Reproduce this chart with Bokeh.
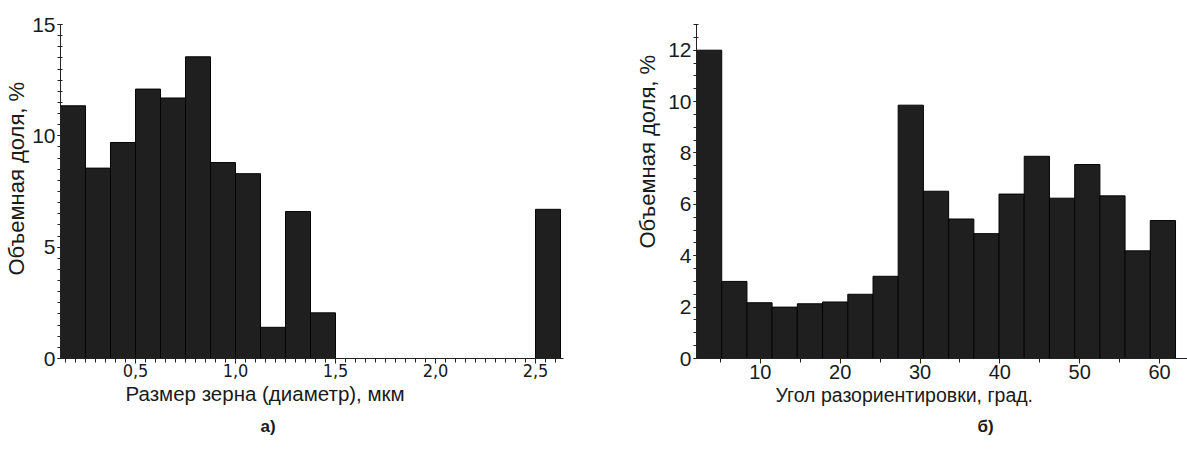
import numpy as np
from bokeh.plotting import figure
from bokeh.layouts import row
from bokeh.models import Range1d, FixedTicker, CustomJSTickFormatter, Title
from bokeh.embed import file_html
from bokeh.resources import INLINE

# ---- data: (a) grain size distribution ----
size_edges = [0.125, 0.25, 0.375, 0.5, 0.625, 0.75, 0.875, 1.0, 1.125, 1.25, 1.375,
              1.5, 1.625, 1.75, 1.875, 2.0, 2.125, 2.25, 2.375, 2.5, 2.625]
size_share = [11.35, 8.55, 9.7, 12.1, 11.7, 13.55, 8.8, 8.3, 1.4, 6.6, 2.05,
              0, 0, 0, 0, 0, 0, 0, 0, 6.7]
size_ticks = [0.5, 1.0, 1.5, 2.0, 2.5]
size_yticks = [0, 5, 10, 15]

# ---- data: (b) misorientation angle distribution ----
angle_edges = [2.0, 5.16, 8.32, 11.47, 14.63, 17.79, 20.95, 24.11, 27.26, 30.42, 33.58,
               36.74, 39.89, 43.05, 46.21, 49.37, 52.53, 55.68, 58.84, 62.0]
angle_share = [12.0, 3.0, 2.17, 2.0, 2.13, 2.2, 2.5, 3.2, 9.86, 6.51, 5.43, 4.86,
               6.4, 7.87, 6.24, 7.55, 6.33, 4.19, 5.37]
angle_ticks = [10, 20, 30, 40, 50, 60]
angle_yticks = [0, 2, 4, 6, 8, 10, 12]

FONT = "Liberation Sans"
NARROW = "DejaVu Sans Condensed"
TXT = "#1a1a1a"
BAR = "#1f1f1f"


def style(p):
    p.outline_line_color = None
    p.xgrid.visible = False
    p.ygrid.visible = False
    p.background_fill_color = "white"
    p.border_fill_color = "white"
    for ax in (p.xaxis[0], p.yaxis[0]):
        ax.axis_line_color = "#222222"
        ax.major_tick_line_color = "#222222"
        ax.minor_tick_line_color = "#222222"
        ax.major_label_text_font = FONT
        ax.major_label_text_color = TXT
    p.xaxis.major_tick_in = 0
    p.xaxis.major_tick_out = 5
    p.xaxis.minor_tick_in = 0
    p.xaxis.minor_tick_out = 4
    p.yaxis.major_tick_in = 2
    p.yaxis.major_tick_out = 3
    p.yaxis.minor_tick_in = 2
    p.yaxis.minor_tick_out = 3


def add_title(p, text, side, offset, size, standoff, bold=False):
    p.add_layout(Title(text=text, align="left", offset=offset, text_font=FONT,
                       text_font_style="bold" if bold else "normal",
                       text_font_size=size, text_color=TXT, standoff=standoff), side)


# ---------- (a) ----------
p1 = figure(width=608, height=450, output_backend="svg", toolbar_location=None,
            x_range=Range1d(0.125, 2.64), y_range=Range1d(0, 15),
            min_border_left=60, min_border_right=45, min_border_top=24, min_border_bottom=92)
p1.quad(left=size_edges[:-1], right=size_edges[1:], top=size_share, bottom=0,
        fill_color=BAR, line_color="#050505", line_width=1)
style(p1)
p1.xaxis.ticker = FixedTicker(ticks=size_ticks, minor_ticks=list(np.arange(0.15, 2.64, 0.05)))
p1.xaxis.formatter = CustomJSTickFormatter(code="return tick.toFixed(1).replace('.', ',');")
p1.xaxis.major_label_text_font = NARROW
p1.xaxis.major_label_text_font_size = "18px"
p1.xaxis.major_label_standoff = 0
p1.yaxis.ticker = FixedTicker(ticks=size_yticks, minor_ticks=list(np.arange(0, 15.01, 0.5)))
p1.yaxis.major_label_text_font_size = "21px"
p1.yaxis.major_label_standoff = 2
add_title(p1, "Размер зерна (диаметр), мкм", "below", 65, "20.5px", 0)
add_title(p1, "а)", "below", 200, "17px", 20, bold=True)
add_title(p1, "Объемная доля, %", "left", 83, "22px", 2)

# ---------- (b) ----------
p2 = figure(width=579, height=450, output_backend="svg", toolbar_location=None,
            x_range=Range1d(2, 63.5), y_range=Range1d(0, 13),
            min_border_left=88, min_border_right=0, min_border_top=21, min_border_bottom=92)
p2.quad(left=angle_edges[:-1], right=angle_edges[1:], top=angle_share, bottom=0,
        fill_color=BAR, line_color="#050505", line_width=1)
style(p2)
p2.xaxis.ticker = FixedTicker(ticks=angle_ticks, minor_ticks=[5, 15, 25, 35, 45, 55])
p2.xaxis.major_label_text_font_size = "20px"
p2.xaxis.major_label_standoff = 1
p2.yaxis.ticker = FixedTicker(ticks=angle_yticks, minor_ticks=list(np.arange(0, 13.01, 0.5)))
p2.yaxis.major_label_text_font_size = "21px"
p2.yaxis.major_label_standoff = 2
add_title(p2, "Угол разориентировки, град.", "below", 79, "19.5px", 0)
add_title(p2, "б)", "below", 281, "17px", 19, bold=True)
add_title(p2, "Объемная доля, %", "left", 110, "22px", 12)

layout = row(p1, p2)
open("out.html", "w").write(file_html(layout, INLINE))
